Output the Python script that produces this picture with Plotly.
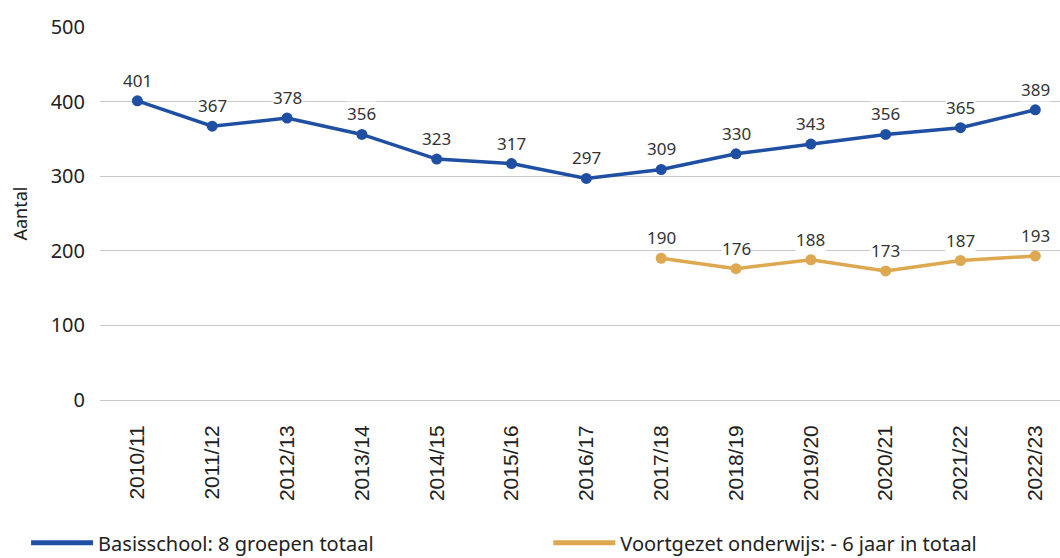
import plotly.graph_objects as go

# School years on the category axis
years = ["2010/11", "2011/12", "2012/13", "2013/14", "2014/15", "2015/16", "2016/17",
         "2017/18", "2018/19", "2019/20", "2020/21", "2021/22", "2022/23"]

# Primary school: all 8 groups
basis = [401, 367, 378, 356, 323, 317, 297, 309, 330, 343, 356, 365, 389]

# Secondary school: 6 years in total (only from 2017/18)
vo_years = ["2017/18", "2018/19", "2019/20", "2020/21", "2021/22", "2022/23"]
vo = [190, 176, 188, 173, 187, 193]

BLUE = "#1F4FA3"
GOLD = "#DDA84F"
FONT = "Noto Sans"
TXT = "#222222"

fig = go.Figure()
fig.add_trace(go.Scatter(
    x=years, y=basis, mode="lines+markers", showlegend=False,
    line=dict(color=BLUE, width=3.5), marker=dict(size=11, color=BLUE),
))
fig.add_trace(go.Scatter(
    x=vo_years, y=vo, mode="lines+markers", showlegend=False,
    line=dict(color=GOLD, width=3.5), marker=dict(size=11, color=GOLD),
))

# Line-only legend entries, one legend per series
fig.add_trace(go.Scatter(
    x=[None], y=[None], mode="lines", name="Basisschool: 8 groepen totaal",
    line=dict(color=BLUE, width=5), legend="legend",
))
fig.add_trace(go.Scatter(
    x=[None], y=[None], mode="lines", name="Voortgezet onderwijs: - 6 jaar in totaal",
    line=dict(color=GOLD, width=5), legend="legend2",
))

# Value labels above each point, on a white box so gridlines are hidden behind them
for xs, ys in ((years, basis), (vo_years, vo)):
    for xv, yv in zip(xs, ys):
        fig.add_annotation(
            x=xv, y=yv, text=str(yv), showarrow=False, yanchor="bottom", yshift=8,
            font=dict(family=FONT, size=17, color="#333333"),
            bgcolor="white", borderpad=0,
        )

legend_common = dict(
    orientation="h", yanchor="middle", y=-0.383, xanchor="left",
    font=dict(family=FONT, size=20, color=TXT), itemwidth=62,
    bgcolor="rgba(0,0,0,0)",
)

fig.update_layout(
    width=1060, height=558,
    margin=dict(l=100, r=0, t=27, b=158, autoexpand=False),
    plot_bgcolor="white", paper_bgcolor="white",
    font=dict(family=FONT, color=TXT),
    legend=dict(legend_common, x=-0.077),
    legend2=dict(legend_common, x=0.467),
    xaxis=dict(
        type="category", categoryorder="array", categoryarray=years,
        range=[-0.5, 12.33], tickangle=-90, showgrid=False, showline=False,
        ticks="", ticklabelstandoff=20, automargin=False,
        tickfont=dict(family="Liberation Sans", size=21, color=TXT),
    ),
    yaxis=dict(
        range=[0, 500], dtick=100, showgrid=True, gridcolor="#C9C9C9", gridwidth=1,
        zeroline=True, zerolinecolor="#C9C9C9", zerolinewidth=1,
        ticks="", ticklabelstandoff=14, automargin=False,
        tickfont=dict(family=FONT, size=20, color=TXT),
        title=dict(text="Aantal", font=dict(family=FONT, size=18, color=TXT), standoff=18),
    ),
)

fig.write_html("out.html")
